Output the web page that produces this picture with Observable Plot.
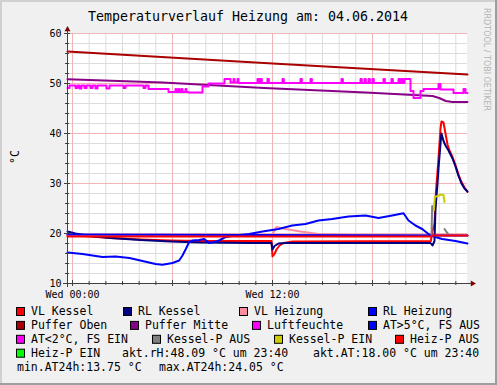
<!DOCTYPE html>
<html><head><meta charset="utf-8">
<script src="https://cdn.jsdelivr.net/npm/d3@7"></script>
<script src="https://cdn.jsdelivr.net/npm/@observablehq/plot@0.6"></script>
<style>html,body{margin:0;padding:0;background:#F0F0F0;} svg{display:block}</style>
</head><body><div id="chart"></div>
<script>
// ---- texts / ticks ----
const title = "Temperaturverlauf Heizung am: 04.06.2014";
const yLabel = "°C";
const watermark = "RRDTOOL / TOBI OETIKER";
const xTicks = [0, 12];
const xTickLabels = ["Wed 00:00", "Wed 12:00"];
const xMajor = [0, 6, 12, 18];
const xMinor = [0,1,2,3,4,5,6,7,8,9,10,11,12,13,14,15,16,17,18,19,20,21,22,23];
const yTicks = [10, 20, 30, 40, 50, 60];
const yMinor = [12,14,16,18,22,24,26,28,32,34,36,38,42,44,46,48,52,54,56,58];

// ---- series: [hour of day, value] ----
const vlKessel = [[-0.3,19.7],[1.08,19.4],[2.28,19.1],[4.08,18.8],[5.88,18.6],[7.68,18.5],[11.94,18.5],[12.0,15.4],[12.12,15.9],[12.24,16.8],[12.42,17.6],[12.66,18.1],[13.2,18.4],[21.5,18.5],[21.6,20.5],[21.72,22.0],[21.8,28.0],[21.96,35.0],[22.08,41.0],[22.14,42.4],[22.26,42.2],[22.38,40.0],[22.5,37.8],[22.62,36.6],[22.8,35.3],[22.98,33.7],[23.16,31.8],[23.34,30.3],[23.52,29.2],[23.7,28.3]];
const rlKessel = [[-0.3,20.4],[0.18,20.0],[1.08,19.5],[2.28,19.1],[4.08,18.7],[5.88,18.4],[7.68,18.2],[10.68,18.1],[11.94,18.1],[12.0,16.8],[12.12,17.5],[12.36,18.0],[12.78,18.1],[21.48,18.1],[21.6,17.6],[21.72,18.5],[21.78,25.0],[21.9,30.0],[21.96,33.0],[22.08,38.0],[22.14,40.0],[22.26,38.5],[22.38,37.6],[22.56,36.6],[22.8,35.0],[22.98,33.4],[23.16,31.5],[23.34,30.0],[23.52,29.0],[23.7,28.4]];
const vlHeizung = [[-0.3,19.5],[11.95,19.5],[12.24,21.3],[12.78,20.9],[13.68,20.4],[14.76,19.9],[16.68,19.7],[23.7,19.6]];
const rlHeizung = [[-0.3,19.8],[23.7,19.6]];
const pufferOben = [[-0.3,56.4],[12.0,54.0],[23.7,51.8]];
const pufferMitte = [[-0.3,50.85],[5.4,50.2],[11.5,49.1],[17.6,48.2],[21.6,47.5],[22.0,47.1],[22.4,46.5],[22.8,46.3],[23.7,46.3]];
const luftfeuchte = [[-0.3,49.1],[-0.18,49.6],[0.18,49.1],[0.3,49.6],[0.42,49.0],[0.54,49.6],[0.72,49.1],[0.84,49.6],[1.08,49.1],[1.2,49.6],[1.38,49.0],[1.5,49.6],[2.04,49.0],[2.22,49.6],[3.06,49.1],[3.18,49.6],[4.26,49.1],[4.38,49.6],[4.56,48.9],[5.76,48.3],[6.18,48.9],[6.24,48.3],[6.36,48.9],[6.42,48.3],[6.54,48.9],[6.6,48.3],[6.78,48.9],[6.84,48.3],[6.96,48.2],[7.8,49.4],[8.16,50.0],[9.12,50.9],[9.48,50.2],[9.66,50.9],[9.72,50.2],[9.9,50.9],[9.96,50.1],[11.1,50.9],[11.18,50.1],[11.28,50.9],[11.36,50.1],[11.7,50.9],[11.78,50.1],[12.6,50.9],[12.68,50.1],[13.68,50.9],[13.76,50.1],[14.28,50.9],[14.36,50.1],[16.14,50.9],[16.22,50.1],[17.28,50.9],[17.36,50.1],[17.52,50.9],[17.6,50.1],[17.76,50.9],[17.84,50.1],[18.0,50.9],[18.08,50.1],[18.66,50.9],[18.74,50.1],[19.14,50.9],[19.22,50.1],[19.56,50.9],[19.64,50.1],[19.74,50.9],[19.82,50.1],[19.92,50.9],[20.28,48.5],[20.46,47.1],[20.88,48.5],[21.06,48.9],[21.96,49.9],[22.08,48.8],[22.86,48.1],[23.46,48.9],[23.58,48.1],[23.7,48.1]];
const aussen = [[-0.3,16.2],[0.6,15.9],[1.2,15.6],[1.8,15.3],[2.58,15.4],[3.42,15.1],[4.2,14.5],[4.98,13.9],[5.4,13.75],[6.0,14.1],[6.4,14.6],[6.6,15.6],[6.8,16.9],[7.0,18.3],[7.2,18.6],[7.6,18.7],[7.9,18.9],[8.2,18.1],[8.5,18.3],[8.8,18.6],[9.18,19.3],[9.78,19.6],[10.6,19.9],[11.4,20.4],[12.36,20.9],[13.18,21.6],[13.98,21.9],[14.76,22.6],[15.58,22.9],[16.56,23.4],[17.58,23.6],[18.36,23.1],[19.18,23.6],[19.86,24.05],[20.16,22.6],[20.58,21.6],[20.98,20.9],[21.36,19.9],[21.66,19.4],[22.18,18.9],[22.98,18.5],[23.7,18.0]];
const kesselAus1 = [[21.54,19.8],[21.58,25.5]];
const kesselAus2 = [[22.32,20.9],[22.44,20.3],[22.52,20.0]];
const kesselEin = [[21.68,24.6],[21.74,27.3],[21.9,27.5],[22.1,27.8],[22.26,27.7],[22.32,26.3]];
const heizPAus = [[-0.3,19.4],[21.5,19.4],[21.6,19.6],[23.7,19.6]];

// ---- legend ----
const legendNames = ["VL Kessel","RL Kessel","VL Heizung","RL Heizung","Puffer Oben","Puffer Mitte","Luftfeuchte","AT>5°C, FS AUS","AT<2°C, FS EIN","Kessel-P AUS","Kessel-P EIN","Heiz-P AUS","Heiz-P EIN"];
const legendColors = ["#FF0000","#000080","#FF8CA0","#0000FF","#AA0000","#880088","#FF00FF","#0000FF","#FF00FF","#808080","#CCCC00","#FF0000","#00FF00"];
const statsText = ["akt.rH:48.09 °C um 23:40","akt.AT:18.00 °C um 23:40","min.AT24h:13.75 °C","max.AT24h:24.05 °C"];

// ---- layout (pixels) ----
const legendX = [31,138,254,383, 31,145,267,383, 31,167,289,410, 31];
const legendRow = [0,0,0,0, 1,1,1,1, 2,2,2,2, 3];
const statsX = [122,313,17,159];
const statsRow = [3,3,4,4];
const rowY = r => 315 + r * 13.9;

const H = 24 / 400; // hours per pixel
const V = 50 / 250; // value per pixel
const axisColor = "#404040";
const mono = "DejaVu Sans Mono";
const ln = (data, color) => Plot.line(data, {x: d => d[0], y: d => d[1], stroke: color, strokeWidth: 2, strokeLinejoin: "round"});

const chart = Plot.plot({
  width: 497, height: 385,
  marginLeft: 67, marginRight: 30, marginTop: 33, marginBottom: 102,
  x: {domain: [-0.3, 23.7], axis: null},
  y: {domain: [10, 60], axis: null},
  style: {background: "#F0F0F0", fontFamily: mono, overflow: "visible"},
  marks: [
    Plot.rect([0], {x1: -0.3, x2: 23.7, y1: 10, y2: 60, fill: "#FFFFFF"}),
    Plot.ruleX(xMinor, {stroke: "#DCDCDC"}),
    Plot.ruleY(yMinor, {x1: -0.3, x2: 23.7, stroke: "#DCDCDC"}),
    Plot.ruleX(xMajor, {stroke: "#F2B4B4"}),
    Plot.ruleY(yTicks, {x1: -0.3, x2: 23.7, stroke: "#F2B4B4"}),
    ln(vlKessel, legendColors[0]),
    ln(rlKessel, legendColors[1]),
    ln(vlHeizung, legendColors[2]),
    ln(rlHeizung, legendColors[3]),
    ln(pufferOben, legendColors[4]),
    ln(pufferMitte, legendColors[5]),
    Plot.line(luftfeuchte, {x: d => d[0], y: d => d[1], stroke: legendColors[6], strokeWidth: 2, curve: "step-after"}),
    ln(aussen, legendColors[7]),
    ln(kesselAus1, legendColors[9]),
    ln(kesselAus2, legendColors[9]),
    ln(kesselEin, legendColors[10]),
    ln(heizPAus, legendColors[11]),
    // axes
    Plot.ruleX([-0.3], {y1: 10 - 4 * V, y2: 60 + 6 * V, stroke: axisColor}),
    Plot.ruleY([10], {x1: -0.3 - 4 * H, x2: 23.7 + 5 * H, stroke: axisColor}),
    Plot.ruleY(yTicks, {x1: -0.3 - 3 * H, x2: -0.3 + 3 * H, stroke: axisColor}),
    Plot.ruleY(yMinor, {x1: -0.3 - 2 * H, x2: -0.3 + 2 * H, stroke: axisColor}),
    Plot.ruleX(xMajor, {y1: 10 - 3 * V, y2: 10 + 3 * V, stroke: axisColor}),
    Plot.ruleX(xMinor, {y1: 10 - 2 * V, y2: 10 + 2 * V, stroke: axisColor}),
    Plot.dot([[-0.3, 60 + 4 * V]], {x: d => d[0], y: d => d[1], symbol: "triangle", r: 2.2, fill: "#800000", stroke: "none"}),
    Plot.dot([[23.7 + 5 * H, 10]], {x: d => d[0], y: d => d[1], symbol: "triangle", r: 2.2, rotate: 90, fill: "#800000", stroke: "none"}),
    Plot.text(yTicks, {x: -0.3, y: d => d, text: d => String(d), dx: -6, textAnchor: "end", fontSize: 10, fontFamily: mono, fill: "#000"}),
    Plot.text(xTicks, {x: d => d, y: 10, text: (d, i) => xTickLabels[i], dy: 11, fontSize: 10, fontFamily: mono, fill: "#000"})
  ]
});

document.getElementById("chart").appendChild(chart);
const svg = d3.select(chart);

// 3D frame
svg.append("rect").attr("x", 0).attr("y", 0).attr("width", 497).attr("height", 2).attr("fill", "#D0D0D0");
svg.append("rect").attr("x", 0).attr("y", 0).attr("width", 2).attr("height", 385).attr("fill", "#D0D0D0");
svg.append("rect").attr("x", 0).attr("y", 383).attr("width", 497).attr("height", 2).attr("fill", "#9E9E9E");
svg.append("rect").attr("x", 495).attr("y", 0).attr("width", 2).attr("height", 385).attr("fill", "#9E9E9E");

const g = svg.append("g").attr("text-anchor", "start").attr("font-family", mono).attr("fill", "#000");
// title
g.append("text").attr("x", 248).attr("y", 20.5).attr("text-anchor", "middle")
  .attr("font-size", 13.3).text(title);
// y label
g.append("text").attr("transform", "translate(18.5,157) rotate(-90)").attr("text-anchor", "middle")
  .attr("font-size", 11.5).text(yLabel);
// watermark
g.append("text").attr("transform", "translate(484,8) rotate(90)").attr("text-anchor", "start")
  .attr("font-family", "DejaVu Sans").attr("font-size", 8).attr("fill", "#B4B4B4").text(watermark);

// legend
legendNames.forEach((name, i) => {
  const x = legendX[i], y = rowY(legendRow[i]);
  g.append("rect").attr("x", x - 14.5).attr("y", y - 7.5).attr("width", 8).attr("height", 8)
    .attr("fill", legendColors[i]).attr("stroke", "#000").attr("stroke-width", 1);
  g.append("text").attr("x", x).attr("y", y).attr("text-anchor", "start").attr("font-size", 11.5).text(name);
});
statsText.forEach((t, i) => {
  g.append("text").attr("x", statsX[i]).attr("y", rowY(statsRow[i])).attr("text-anchor", "start")
    .attr("font-size", 11.5).text(t);
});
</script>
</body></html>
